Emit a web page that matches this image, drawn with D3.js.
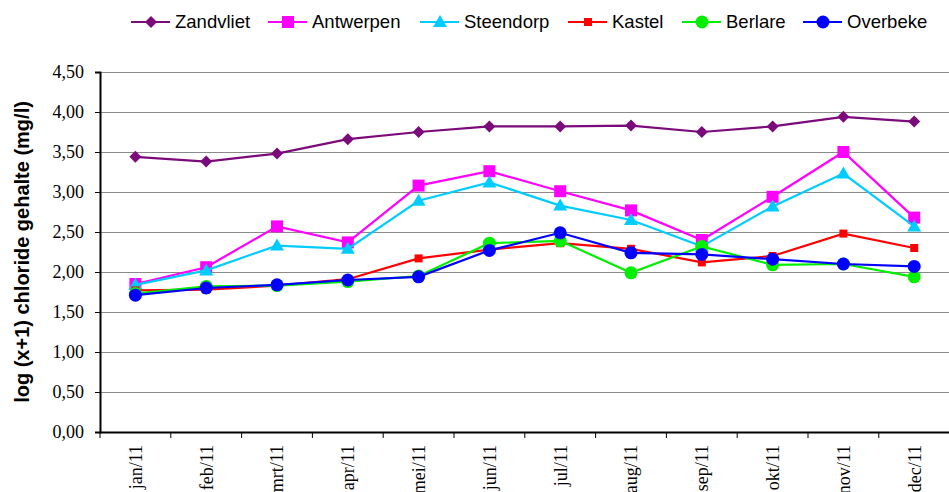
<!DOCTYPE html>
<html>
<head>
<meta charset="utf-8">
<script src="https://cdn.jsdelivr.net/npm/d3@7"></script>
<style>
  body { margin: 0; background: #fff; }
  svg { display: block; }
</style>
</head>
<body>
<div class="chart"></div>
<script>
const months = ["jan/11","feb/11","mrt/11","apr/11","mei/11","jun/11","jul/11","aug/11","sep/11","okt/11","nov/11","dec/11"];
const yTicks = [0, 0.5, 1, 1.5, 2, 2.5, 3, 3.5, 4, 4.5];

const zandvliet = [3.44, 3.38, 3.48, 3.66, 3.75, 3.82, 3.82, 3.83, 3.75, 3.82, 3.94, 3.88];
const antwerpen = [1.85, 2.06, 2.57, 2.37, 3.08, 3.26, 3.01, 2.77, 2.40, 2.94, 3.50, 2.68];
const steendorp = [1.84, 2.02, 2.33, 2.29, 2.89, 3.12, 2.83, 2.65, 2.32, 2.82, 3.23, 2.57];
const kastel    = [1.77, 1.78, 1.83, 1.91, 2.17, 2.28, 2.36, 2.29, 2.12, 2.20, 2.48, 2.30];
const berlare   = [1.73, 1.82, 1.83, 1.88, 1.95, 2.36, 2.39, 1.99, 2.32, 2.09, 2.10, 1.94];
const overbeke  = [1.71, 1.80, 1.84, 1.90, 1.94, 2.27, 2.49, 2.24, 2.22, 2.16, 2.10, 2.07];

const series = [
  {name: "Zandvliet", values: zandvliet, color: "#7b0a7b", shape: "diamond"},
  {name: "Antwerpen", values: antwerpen, color: "#ff00ff", shape: "square"},
  {name: "Steendorp", values: steendorp, color: "#00ccff", shape: "triangle"},
  {name: "Kastel",    values: kastel,    color: "#ff0000", shape: "smallsquare"},
  {name: "Berlare",   values: berlare,   color: "#00ee00", shape: "circle"},
  {name: "Overbeke",  values: overbeke,  color: "#0000ff", shape: "circle"}
];

const width = 949, height = 492;
const margin = {top: 72, left: 100, bottom: 60};

const svg = d3.select(".chart").append("svg")
  .attr("width", width)
  .attr("height", height);

let x = d3.scaleBand().domain(months).range([margin.left, margin.left + 12 * 70.8]);
let y = d3.scaleLinear().domain([0, 4.5]).range([height - margin.bottom, margin.top]);

// gridlines
svg.append("g")
  .selectAll("line")
  .data(yTicks.filter(d => d > 0))
  .enter().append("line")
  .attr("x1", margin.left).attr("x2", width)
  .attr("y1", d => Math.round(y(d)) + 0.5).attr("y2", d => Math.round(y(d)) + 0.5)
  .attr("stroke", "#8a8a8a").attr("stroke-width", 1);

// y axis
let yAxis = svg.append("g")
  .attr("transform", "translate(" + margin.left + ",0)")
  .call(d3.axisLeft(y).tickValues(yTicks).tickSize(5).tickPadding(11)
    .tickFormat(d => d3.format(".2f")(d).replace(".", ",")));
yAxis.select(".domain").attr("stroke", "#000").attr("stroke-width", 2);
yAxis.selectAll(".tick line").attr("stroke", "#000");
yAxis.selectAll("text")
  .attr("font-family", "Liberation Serif, Times New Roman, serif")
  .attr("font-size", 18).attr("fill", "#000");

// x axis
let xAxis = svg.append("g")
  .attr("transform", "translate(0," + (height - margin.bottom) + ")")
  .call(d3.axisBottom(x).tickSize(0).tickSizeOuter(0));
xAxis.select(".domain").attr("stroke", "#000").attr("stroke-width", 2);
xAxis.selectAll(".tick text")
  .attr("font-family", "Liberation Serif, Times New Roman, serif")
  .attr("font-size", 18).attr("fill", "#000")
  .attr("text-anchor", "end")
  .attr("transform", "rotate(-90)")
  .attr("x", -13).attr("y", 0).attr("dy", "0.35em");

// category boundary ticks
svg.append("g")
  .selectAll("line")
  .data(d3.range(13))
  .enter().append("line")
  .attr("x1", i => margin.left + i * x.step()).attr("x2", i => margin.left + i * x.step())
  .attr("y1", height - margin.bottom).attr("y2", height - margin.bottom + 6)
  .attr("stroke", "#000").attr("stroke-width", 1);

// y title
svg.append("text")
  .attr("transform", "translate(29," + ((y(0) + y(4.5)) / 2) + ") rotate(-90)")
  .attr("text-anchor", "middle")
  .attr("font-family", "Liberation Sans, Arial, sans-serif")
  .attr("font-weight", "bold")
  .attr("font-size", 20)
  .text("log (x+1) chloride gehalte (mg/l)");

function drawMarker(g, shape, color) {
  if (shape === "diamond") {
    g.append("path").attr("d", "M0,-6L6,0L0,6L-6,0Z").attr("fill", color);
  } else if (shape === "square") {
    g.append("rect").attr("x", -6).attr("y", -6).attr("width", 12).attr("height", 12).attr("fill", color);
  } else if (shape === "smallsquare") {
    g.append("rect").attr("x", -4).attr("y", -4).attr("width", 8).attr("height", 8).attr("fill", color);
  } else if (shape === "triangle") {
    g.append("path").attr("d", "M0,-7L7,5L-7,5Z").attr("fill", color);
  } else {
    g.append("circle").attr("r", 6.5).attr("fill", color);
  }
}

let line = d3.line()
  .x((d, i) => x(months[i]) + x.bandwidth() / 2)
  .y(d => y(d));

series.forEach(function(s) {
  svg.append("path")
    .datum(s.values)
    .attr("d", line)
    .attr("fill", "none")
    .attr("stroke", s.color)
    .attr("stroke-width", 2.2);

  svg.append("g")
    .selectAll("g")
    .data(s.values)
    .enter().append("g")
    .attr("transform", (d, i) => "translate(" + (x(months[i]) + x.bandwidth() / 2) + "," + y(d) + ")")
    .each(function() { drawMarker(d3.select(this), s.shape, s.color); });
});

// legend
const legendX = [131, 268, 420, 568, 682, 803];
let legend = svg.append("g");
series.forEach(function(s, i) {
  let g = legend.append("g").attr("transform", "translate(" + legendX[i] + ",22)");
  g.append("line").attr("x1", 0).attr("x2", 39).attr("y1", 0).attr("y2", 0)
    .attr("stroke", s.color).attr("stroke-width", 2.2);
  let m = g.append("g").attr("transform", "translate(20,0)");
  drawMarker(m, s.shape, s.color);
  g.append("text")
    .attr("x", 44).attr("y", 0).attr("dy", "0.35em")
    .attr("font-family", "Liberation Sans, Arial, sans-serif")
    .attr("font-size", 18.5)
    .text(s.name);
});
</script>
</body>
</html>
